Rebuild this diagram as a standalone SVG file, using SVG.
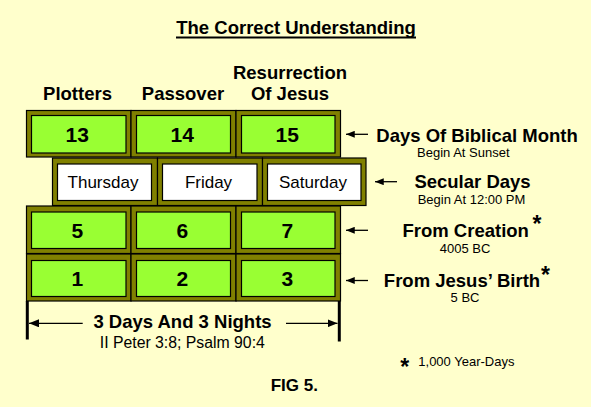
<svg xmlns="http://www.w3.org/2000/svg" width="591" height="407" viewBox="0 0 591 407">
<defs>
<style>
text{font-family:"Liberation Sans",Arial,sans-serif;fill:#000;text-anchor:middle}
.b{font-weight:bold;font-size:18.5px}
.num{font-weight:bold;font-size:21px}
.day{font-size:17px}
.s{font-size:13px}
.ref{font-size:15.8px}
.ast{font-weight:bold;font-size:23px}
.outer{fill:#808000;stroke:#000;stroke-width:1.2}
.green{fill:#99FF33;stroke:#000;stroke-width:1.2}
.white{fill:#FFFFFF;stroke:#000;stroke-width:1.2}
.ln{stroke:#000;stroke-width:1.3;fill:none}
.dim{stroke:#000;stroke-width:3;fill:none}
</style>
<marker id="ah" viewBox="0 0 10 8" refX="10" refY="4" markerWidth="9" markerHeight="7" markerUnits="userSpaceOnUse" orient="auto">
<path d="M0,0 L10,4 L0,8 Z" fill="#000"/>
</marker>
<marker id="ah2" viewBox="0 0 10 8" refX="10" refY="4" markerWidth="10" markerHeight="8" markerUnits="userSpaceOnUse" orient="auto">
<path d="M0,0 L10,4 L0,8 Z" fill="#000"/>
</marker>
</defs>
<rect width="591" height="407" fill="#FFFFCC"/>

<g id="title">
<text class="b" x="296" y="34">The Correct Understanding</text>
<rect x="176" y="36.5" width="240" height="2" fill="#000"/>
</g>

<g id="headers">
<text class="b" x="77.5" y="100">Plotters</text>
<text class="b" x="183" y="100">Passover</text>
<text class="b" x="290" y="78.7">Resurrection</text>
<text class="b" x="290" y="100">Of Jesus</text>
</g>

<g id="cell-13"><rect class="outer" x="26.5" y="110.5" width="104.5" height="46.5"/><rect class="green" x="31.5" y="115.5" width="94.5" height="37.5"/><text class="num" x="77.3" y="141.8">13</text></g>
<g id="cell-14"><rect class="outer" x="131" y="110.5" width="105" height="46.5"/><rect class="green" x="136.5" y="115.5" width="94" height="37.5"/><text class="num" x="182.3" y="141.8">14</text></g>
<g id="cell-15"><rect class="outer" x="236" y="110.5" width="104.5" height="46.5"/><rect class="green" x="241.5" y="115.5" width="93.5" height="37.5"/><text class="num" x="287.3" y="141.8">15</text></g>

<g id="cell-thursday"><rect class="outer" x="52.5" y="158" width="105" height="47.5"/><rect class="white" x="57.5" y="164" width="94" height="36.5"/><text class="day" x="103" y="188">Thursday</text></g>
<g id="cell-friday"><rect class="outer" x="157.5" y="158" width="105" height="47.5"/><rect class="white" x="162.5" y="164" width="94.5" height="36.5"/><text class="day" x="208.5" y="188">Friday</text></g>
<g id="cell-saturday"><rect class="outer" x="262.5" y="158" width="103.5" height="47.5"/><rect class="white" x="267.5" y="164" width="93.5" height="36.5"/><text class="day" x="313" y="188">Saturday</text></g>

<g id="cell-5"><rect class="outer" x="26.5" y="206" width="104.5" height="47.5"/><rect class="green" x="31.5" y="212" width="94.5" height="36.5"/><text class="num" x="77.3" y="237.8">5</text></g>
<g id="cell-6"><rect class="outer" x="131" y="206" width="105" height="47.5"/><rect class="green" x="136.5" y="212" width="94" height="36.5"/><text class="num" x="182.3" y="237.8">6</text></g>
<g id="cell-7"><rect class="outer" x="236" y="206" width="104.5" height="47.5"/><rect class="green" x="241.5" y="212" width="93.5" height="36.5"/><text class="num" x="287.3" y="237.8">7</text></g>

<g id="cell-1"><rect class="outer" x="26.5" y="254" width="104.5" height="47"/><rect class="green" x="31.5" y="260.5" width="94.5" height="36"/><text class="num" x="77.3" y="286">1</text></g>
<g id="cell-2"><rect class="outer" x="131" y="254" width="105" height="47"/><rect class="green" x="136.5" y="260.5" width="94" height="36"/><text class="num" x="182.3" y="286">2</text></g>
<g id="cell-3"><rect class="outer" x="236" y="254" width="104.5" height="47"/><rect class="green" x="241.5" y="260.5" width="93.5" height="36"/><text class="num" x="287.3" y="286">3</text></g>

<g id="label-biblical">
<text class="b" x="477" y="141.7">Days Of Biblical Month</text>
<text class="s" x="463.3" y="156.7">Begin At Sunset</text>
</g>
<g id="label-secular">
<text class="b" x="472.5" y="188.3">Secular Days</text>
<text class="s" x="471.5" y="204.3">Begin At 12:00 PM</text>
</g>
<g id="label-creation">
<text class="b" x="465.7" y="237.3">From Creation</text>
<text class="ast" x="537" y="231.5">*</text>
<text class="s" x="465" y="252.7">4005 BC</text>
</g>
<g id="label-birth">
<text class="b" x="462" y="287">From Jesus’ Birth</text>
<text class="ast" x="545.5" y="283">*</text>
<text class="s" x="465" y="302.2">5 BC</text>
</g>

<g id="span">
<text class="b" x="182.5" y="328.3">3 Days And 3 Nights</text>
<text class="ref" x="182.3" y="348.3">II Peter 3:8; Psalm 90:4</text>
</g>

<g id="footnote">
<text class="ast" x="404.7" y="374.5">*</text>
<text class="s" x="418.3" y="366" style="text-anchor:start">1,000 Year-Days</text>
</g>

<g id="caption">
<text class="b" x="294.3" y="391" style="font-size:17px">FIG 5.</text>
</g>

<g id="connectors">
<line class="ln" x1="368" y1="134.3" x2="346" y2="134.3" marker-end="url(#ah)"/>
<line class="ln" x1="397" y1="181.7" x2="375" y2="181.7" marker-end="url(#ah)"/>
<line class="ln" x1="368" y1="230.3" x2="346" y2="230.3" marker-end="url(#ah)"/>
<line class="ln" x1="368" y1="280.5" x2="346" y2="280.5" marker-end="url(#ah)"/>
<line class="dim" x1="27.3" y1="301" x2="27.3" y2="339.5"/>
<line class="dim" x1="339.3" y1="301" x2="339.3" y2="341.5"/>
<line class="ln" x1="82.7" y1="323.3" x2="29" y2="323.3" marker-end="url(#ah2)"/>
<line class="ln" x1="286" y1="323.3" x2="337.5" y2="323.3" marker-end="url(#ah2)"/>
</g>
</svg>
